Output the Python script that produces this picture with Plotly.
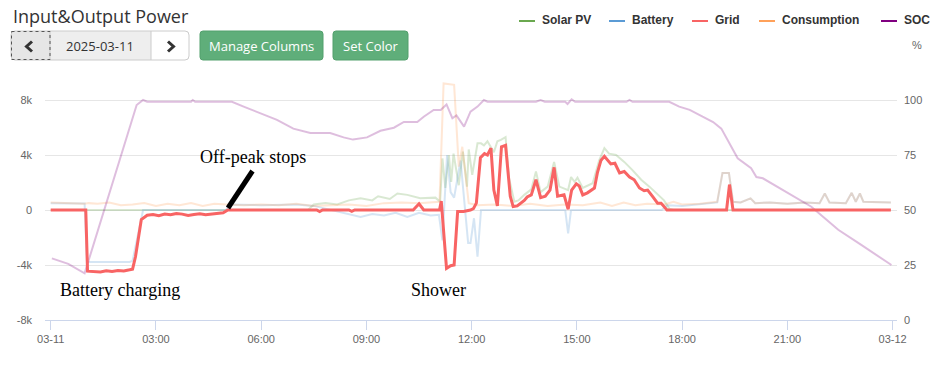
import plotly.graph_objects as go

DAY = "2025-03-11"
NEXT_DAY = "2025-03-12"

series_names = ["Solar PV", "Battery", "Grid", "Consumption", "SOC"]
series_colors = ["#6aa84f", "#5b9bd5", "#f86464", "#ffa15a", "#800080"]

x_tick_times = ["00:00", "03:00", "06:00", "09:00", "12:00", "15:00", "18:00", "21:00", "24:00"]
x_tick_labels = ["03-11", "03:00", "06:00", "09:00", "12:00", "15:00", "18:00", "21:00", "03-12"]
y_tick_vals = [-8000, -4000, 0, 4000, 8000, 12000]
y_tick_labels = ["-8k", "-4k", "0", "4k", "8k", ""]
soc_tick_vals = [0, 25, 50, 75, 100]

# (time, watts)
solar = [("00:00", 0), ("07:20", 0), ("07:30", 400), ("07:50", 500), ("08:10", 400), ("08:30", 700),
         ("08:50", 850), ("09:10", 700), ("09:20", 1000), ("09:40", 800), ("09:53", 1200), ("10:10", 1100),
         ("10:32", 850), ("10:58", 900), ("11:06", 600), ("11:10", 3750), ("11:15", 1600), ("11:21", 4000),
         ("11:25", 2050), ("11:29", 4100), ("11:38", 1800), ("11:45", 4250), ("11:52", 1700), ("11:55", 4400),
         ("12:01", 2550), ("12:10", 4850), ("12:16", 4850), ("12:21", 4700), ("12:27", 5000), ("12:38", 4200),
         ("12:44", 5000), ("12:50", 5100), ("12:58", 5300), ("13:04", 2300), ("13:13", 600), ("13:20", 700),
         ("13:30", 1100), ("13:42", 1500), ("13:50", 2800), ("13:58", 1300), ("14:10", 1700), ("14:21", 3500),
         ("14:30", 1700), ("14:45", 1450), ("14:50", 2400), ("14:56", 2050), ("15:01", 2350), ("15:10", 1600),
         ("15:27", 1950), ("15:38", 3600), ("15:47", 4500), ("15:55", 4100), ("16:07", 4000), ("16:21", 3500),
         ("16:35", 2900), ("16:50", 2200), ("17:04", 1700), ("17:18", 1100), ("17:29", 700), ("17:38", 100),
         ("17:45", 0), ("23:57", 0)]

battery = [("00:00", 500), ("00:58", 480), ("01:02", -3780), ("02:15", -3780), ("02:20", -3700), ("02:30", -1500),
           ("02:38", 0), ("05:00", 0), ("05:05", 400), ("06:00", 350), ("07:00", 400), ("07:30", 300),
           ("08:00", 0), ("08:30", -300), ("08:50", -500), ("09:10", -300), ("09:30", -400), ("09:50", -200),
           ("10:10", -500), ("10:30", -200), ("10:50", -400), ("11:04", -350), ("11:10", -2200), ("11:18", 4000),
           ("11:24", 1300), ("11:30", 900), ("11:41", 3600), ("11:54", -2400), ("11:58", -2400), ("12:04", -600),
           ("12:10", -3400), ("12:16", 0), ("14:40", 0), ("14:45", -1700), ("14:50", 0), ("17:25", 0),
           ("17:35", 350), ("18:00", 300), ("18:30", 450), ("19:00", 550), ("19:09", 2700), ("19:20", 2700),
           ("19:27", 600), ("19:40", 550), ("19:57", 850), ("20:05", 500), ("20:30", 550), ("21:00", 450),
           ("21:30", 550), ("21:55", 500), ("22:04", 1200), ("22:12", 550), ("22:40", 500), ("22:50", 1250),
           ("22:57", 600), ("23:04", 1200), ("23:10", 600), ("23:57", 550)]

grid = [("00:00", 0), ("01:00", 0), ("01:03", -4450), ("01:15", -4480), ("01:25", -4500), ("01:35", -4420),
        ("01:45", -4470), ("01:55", -4400), ("02:05", -4430), ("02:15", -4350), ("02:20", -4300), ("02:25", -3400),
        ("02:35", -700), ("02:45", -380), ("02:55", -330), ("03:05", -420), ("03:15", -300), ("03:25", -350),
        ("03:35", -250), ("03:45", -300), ("03:55", -400), ("04:05", -330), ("04:15", -280), ("04:25", -350),
        ("04:35", -300), ("04:45", -250), ("04:55", -200), ("05:03", 0), ("07:35", 0), ("07:40", -120),
        ("07:45", 0), ("08:30", 0), ("08:35", -100), ("08:40", 0), ("10:20", 0), ("10:30", 450), ("10:38", 0),
        ("11:05", 0), ("11:08", 650), ("11:17", -4250), ("11:24", -4050), ("11:30", -4000), ("11:36", -100),
        ("11:46", -100), ("11:58", 0), ("12:03", 100), ("12:08", 500), ("12:15", 3800), ("12:22", 4100),
        ("12:27", 4000), ("12:33", 4500), ("12:38", 1450), ("12:44", 300), ("12:51", 4600), ("12:58", 4700),
        ("13:06", 1000), ("13:11", 250), ("13:18", 300), ("13:24", 500), ("13:30", 700), ("13:35", 950),
        ("13:42", 1100), ("13:50", 2200), ("13:58", 900), ("14:06", 1000), ("14:14", 1450), ("14:21", 3100),
        ("14:27", 1000), ("14:38", 1100), ("14:45", 50), ("14:51", 1450), ("14:59", 1900), ("15:04", 1750),
        ("15:10", 1100), ("15:18", 1250), ("15:24", 1450), ("15:30", 1600), ("15:35", 2700), ("15:41", 3600),
        ("15:47", 3900), ("15:53", 3600), ("15:58", 3350), ("16:05", 3400), ("16:13", 2700), ("16:21", 2800),
        ("16:30", 2400), ("16:38", 2200), ("16:47", 1600), ("16:55", 1400), ("17:01", 1450), ("17:10", 950),
        ("17:18", 500), ("17:24", 500), ("17:34", 0), ("19:16", 0), ("19:21", 1850), ("19:27", 0), ("23:57", 0)]

consumption = [("00:00", 550), ("00:30", 500), ("00:58", 450), ("01:05", 500), ("01:20", 450), ("01:40", 550),
               ("02:00", 350), ("02:20", 400), ("02:40", 500), ("03:00", 300), ("03:20", 450), ("03:40", 350),
               ("04:00", 500), ("04:20", 300), ("04:40", 450), ("05:00", 400), ("05:30", 350), ("06:00", 400),
               ("06:30", 350), ("07:00", 450), ("07:30", 300), ("08:00", 350), ("08:30", 400), ("09:00", 300),
               ("09:30", 500), ("10:00", 550), ("10:30", 500), ("11:05", 600), ("11:12", 9200), ("11:30", 9100),
               ("11:38", 3150), ("11:44", 4600), ("11:55", 500), ("12:10", 350), ("12:40", 400), ("13:10", 300),
               ("13:40", 450), ("14:10", 300), ("14:40", 400), ("15:10", 350), ("15:40", 550), ("16:00", 300),
               ("16:20", 550), ("16:40", 350), ("17:00", 450), ("17:30", 400), ("17:45", 600), ("18:00", 400),
               ("18:30", 450), ("19:00", 600), ("19:09", 2700), ("19:20", 2700), ("19:27", 600), ("19:40", 550),
               ("19:57", 850), ("20:05", 500), ("20:30", 550), ("21:00", 450), ("21:30", 550), ("21:55", 500),
               ("22:04", 1200), ("22:12", 550), ("22:40", 500), ("22:50", 1250), ("22:57", 600), ("23:04", 1200),
               ("23:10", 600), ("23:57", 550)]

soc = [("00:02", 28), ("00:30", 25.5), ("00:58", 21.2), ("02:27", 97.7), ("02:38", 100), ("02:45", 99.2),
       ("04:00", 99.2), ("04:03", 100), ("04:07", 99.2), ("05:10", 99.2), ("05:30", 97), ("05:58", 94),
       ("06:27", 91), ("06:55", 87), ("07:24", 85), ("07:58", 85), ("08:21", 83), ("08:37", 82), ("09:01", 83),
       ("09:24", 86), ("09:47", 87.4), ("10:04", 90), ("10:27", 90), ("10:38", 92.4), ("10:55", 95.5),
       ("11:07", 95.5), ("11:17", 98), ("11:27", 91.7), ("11:34", 93), ("11:47", 87.9), ("11:58", 94.7),
       ("12:10", 97), ("12:21", 100), ("12:27", 99.2), ("13:50", 99.2), ("13:58", 100), ("14:05", 99.2),
       ("14:40", 99.2), ("14:44", 98.2), ("14:51", 100.3), ("14:57", 99.2), ("16:25", 99.2), ("16:30", 100),
       ("16:35", 99.2), ("17:38", 99.2), ("17:55", 97), ("18:13", 95.5), ("18:35", 92.4), ("18:53", 90),
       ("19:07", 87), ("19:16", 82.6), ("19:35", 73.5), ("19:58", 69), ("20:07", 65), ("20:18", 64.4),
       ("21:01", 57.6), ("21:41", 51.5), ("22:04", 46.2), ("22:27", 41), ("23:07", 34), ("23:18", 32),
       ("23:58", 25)]

annotations_text = [("Off-peak stops", 253, 157), ("Battery charging", 120, 290), ("Shower", 438, 290)]


def ts(hhmm):
    if hhmm == "24:00":
        return f"{NEXT_DAY} 00:00:00"
    return f"{DAY} {hhmm}:00"


def split(pairs):
    return [ts(t) for t, _ in pairs], [v for _, v in pairs]


W, H = 940, 365
L, R, T, B = 45, 43, 45, 45
PW, PH = W - L - R, H - T - B


def px(x):
    return (x - L) / PW


def py(y):
    return (H - B - y) / PH


def rrect(x0, y0, x1, y1, r):
    X0, X1, Y0, Y1 = px(x0), px(x1), py(y0), py(y1)
    rx, ry = r / PW, r / PH
    return (f"M {X0+rx},{Y0} L {X1-rx},{Y0} Q {X1},{Y0} {X1},{Y0-ry} L {X1},{Y1+ry} "
            f"Q {X1},{Y1} {X1-rx},{Y1} L {X0+rx},{Y1} Q {X0},{Y1} {X0},{Y1+ry} "
            f"L {X0},{Y0-ry} Q {X0},{Y0} {X0+rx},{Y0} Z")


fig = go.Figure()
faded = 0.25
series_data = [solar, battery, grid, consumption, soc]
for name, color, data in zip(series_names, series_colors, series_data):
    xs, ys = split(data)
    if name == "Grid":
        continue
    fig.add_trace(go.Scatter(x=xs, y=ys, name=name, mode="lines",
                             line=dict(color=color, width=2), opacity=faded,
                             yaxis="y2" if name == "SOC" else "y", hoverinfo="skip"))
gx, gy = split(grid)
fig.add_trace(go.Scatter(x=gx, y=gy, name="Grid", mode="lines",
                         line=dict(color=series_colors[2], width=3), yaxis="y3", hoverinfo="skip"))

tick_font = dict(family="Liberation Sans, Arial, sans-serif", size=11, color="#666666")
yrange = [-8000, 12000]

fig.update_layout(
    width=W, height=H,
    margin=dict(l=L, r=R, t=T, b=B),
    paper_bgcolor="white", plot_bgcolor="white",
    showlegend=False,
    xaxis=dict(type="date", range=["2025-03-10 23:50:15", "2025-03-12 00:07:30"],
               tickvals=[ts(t) for t in x_tick_times], ticktext=x_tick_labels,
               showgrid=False, showline=True, linecolor="#ccd6eb", linewidth=1,
               ticks="outside", ticklen=9, tickcolor="#ccd6eb", tickfont=tick_font, zeroline=False),
    yaxis=dict(range=yrange, tickvals=y_tick_vals, ticktext=y_tick_labels, showgrid=True,
               gridcolor="#e6e6e6", gridwidth=1, zeroline=False, showline=False, tickfont=tick_font,
               ticks="", ticklabelstandoff=12),
    yaxis2=dict(range=[0, 125], tickvals=soc_tick_vals, overlaying="y", side="right", showgrid=False,
                zeroline=False, showline=False, tickfont=tick_font, ticks="", ticklabelstandoff=6),
    yaxis3=dict(range=yrange, overlaying="y", visible=False),
)

shapes = []
annots = []

# title
annots.append(dict(text="Input&Output Power", x=px(11), y=py(16), xref="paper", yref="paper",
                   xanchor="left", yanchor="middle", showarrow=False,
                   font=dict(family="Open Sans, sans-serif", size=18, color="#333333")))

# date group
shapes.append(dict(type="path", path=rrect(11, 31, 189, 60, 4), xref="paper", yref="paper",
                   fillcolor="#e6e6e6", line=dict(width=0), layer="above"))
shapes.append(dict(type="path", path=rrect(140, 31, 189, 60, 4), xref="paper", yref="paper",
                   fillcolor="white", line=dict(width=0), layer="above"))
shapes.append(dict(type="rect", x0=px(50), x1=px(151), y0=py(31), y1=py(60), xref="paper", yref="paper",
                   fillcolor="#eeeeee", line=dict(width=0), layer="above"))
shapes.append(dict(type="path", path=rrect(11, 31, 189, 60, 4), xref="paper", yref="paper",
                   line=dict(color="#cccccc", width=1), layer="above"))
for xv in (50, 151):
    shapes.append(dict(type="line", x0=px(xv), x1=px(xv), y0=py(31), y1=py(60), xref="paper", yref="paper",
                       line=dict(color="#cccccc", width=1), layer="above"))
shapes.append(dict(type="rect", x0=px(11.5), x1=px(50), y0=py(31.5), y1=py(59.5), xref="paper", yref="paper",
                   line=dict(color="#555555", width=1, dash="dot"), layer="above"))
shapes.append(dict(type="path", path=f"M {px(32)},{py(41.5)} L {px(26.5)},{py(46.5)} L {px(32)},{py(51.5)}",
                   xref="paper", yref="paper", line=dict(color="#333333", width=3), layer="above"))
shapes.append(dict(type="path", path=f"M {px(168)},{py(41.5)} L {px(173.5)},{py(46.5)} L {px(168)},{py(51.5)}",
                   xref="paper", yref="paper", line=dict(color="#333333", width=3), layer="above"))
annots.append(dict(text="2025-03-11", x=px(100), y=py(46), xref="paper", yref="paper",
                   xanchor="center", yanchor="middle", showarrow=False,
                   font=dict(family="Open Sans, sans-serif", size=13, color="#333333")))

# green buttons
for label, x0, x1 in (("Manage Columns", 200, 323), ("Set Color", 333, 408)):
    shapes.append(dict(type="path", path=rrect(x0, 31, x1, 60, 3), xref="paper", yref="paper",
                       fillcolor="#5fae7a", line=dict(color="#53a06d", width=1), layer="above"))
    annots.append(dict(text=label, x=px((x0 + x1) / 2), y=py(46), xref="paper", yref="paper",
                       xanchor="center", yanchor="middle", showarrow=False,
                       font=dict(family="Open Sans, sans-serif", size=13, color="white")))

# legend
legend_pos = [519, 609, 692, 759, 881]
for name, color, x0 in zip(series_names, series_colors, legend_pos):
    shapes.append(dict(type="line", x0=px(x0), x1=px(x0 + 16), y0=py(21), y1=py(21), xref="paper",
                       yref="paper", line=dict(color=color, width=2), layer="above"))
    annots.append(dict(text=f"<b>{name}</b>", x=px(x0 + 21), y=py(20.5), xref="paper", yref="paper",
                       xanchor="left", yanchor="middle", showarrow=False,
                       font=dict(family="Liberation Sans, Arial, sans-serif", size=12, color="#333333")))

# % label
annots.append(dict(text="%", x=px(917), y=py(45), xref="paper", yref="paper", xanchor="center",
                   yanchor="middle", showarrow=False, font=tick_font))

# chart annotations
for text, x, y in annotations_text:
    annots.append(dict(text=text, x=px(x), y=py(y), xref="paper", yref="paper", xanchor="center",
                       yanchor="middle", showarrow=False,
                       font=dict(family="Liberation Serif, Times New Roman, serif", size=18, color="black")))
shapes.append(dict(type="line", x0=px(228), y0=py(208), x1=px(252.5), y1=py(171), xref="paper", yref="paper",
                   line=dict(color="black", width=5), layer="above"))

fig.update_layout(shapes=shapes, annotations=annots)
fig.write_html("out.html", config={"displayModeBar": False},
               post_script="document.body.style.margin='0';document.body.style.overflow='hidden';")
